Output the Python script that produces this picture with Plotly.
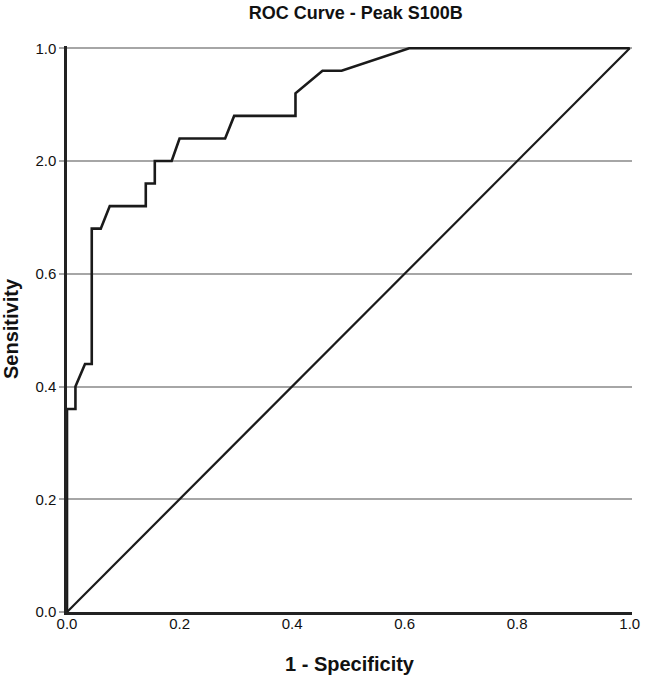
import plotly.graph_objects as go

# ROC curve points (1 - specificity, sensitivity)
fpr = [0.0, 0.0, 0.015, 0.015, 0.032, 0.044, 0.044, 0.06, 0.076, 0.14, 0.14, 0.156, 0.156,
       0.186, 0.2, 0.281, 0.297, 0.406, 0.406, 0.454, 0.488, 0.608, 1.0]
tpr = [0.0, 0.36, 0.36, 0.40, 0.44, 0.44, 0.68, 0.68, 0.72, 0.72, 0.76, 0.76, 0.80,
       0.80, 0.84, 0.84, 0.88, 0.88, 0.92, 0.96, 0.96, 1.0, 1.0]
ref_x = [0.0, 1.0]
ref_y = [0.0, 1.0]

x_tickvals = [0.0, 0.2, 0.4, 0.6, 0.8, 1.0]
x_ticktext = ["0.0", "0.2", "0.4", "0.6", "0.8", "1.0"]
y_tickvals = [0.0, 0.2, 0.4, 0.6, 0.8, 1.0]
y_ticktext = ["0.0", "0.2", "0.4", "0.6", "2.0", "1.0"]

fig = go.Figure()
fig.add_trace(go.Scatter(x=ref_x, y=ref_y, mode="lines",
                         line=dict(color="#1a1a1a", width=2.2), showlegend=False))
fig.add_trace(go.Scatter(x=fpr, y=tpr, mode="lines",
                         line=dict(color="#1a1a1a", width=2.6), showlegend=False))

font_family = "Liberation Sans, Arial, sans-serif"
fig.update_layout(
    width=645, height=682,
    margin=dict(l=67, r=13, t=46, b=70, autoexpand=False),
    paper_bgcolor="white", plot_bgcolor="white",
    font=dict(family=font_family, color="#111111"),
    title=dict(text="<b>ROC Curve - Peak S100B</b>", x=0.511, xref="paper",
               xanchor="center", y=0.981, yanchor="middle", pad=dict(t=0, b=0),
               font=dict(size=18, family=font_family, color="#111111")),
    xaxis=dict(range=[0, 1.004], tickvals=x_tickvals, ticktext=x_ticktext,
               automargin=False, ticklabelstandoff=-4, ticklabeloverflow="allow",
               showgrid=False, zeroline=False, showline=True, linecolor="#222222",
               linewidth=2.5, ticks="", tickfont=dict(size=15, color="#111111"),
               title=dict(text="<b>1 - Specificity</b>", font=dict(size=20), standoff=27)),
    yaxis=dict(range=[0, 1.004], tickvals=y_tickvals, ticktext=y_ticktext,
               automargin=False,
               showgrid=True, gridcolor="#a6a6a6", gridwidth=2, zeroline=False,
               showline=True, linecolor="#222222", linewidth=2.5,
               ticks="outside", ticklen=5, tickcolor="#a6a6a6", tickwidth=2,
               tickfont=dict(size=15, color="#111111"),
               title=dict(text="<b>Sensitivity</b>", font=dict(size=20), standoff=14)),
)

fig.write_html("out.html", config={"displayModeBar": False},
               post_script="document.body.style.margin='0';document.body.style.overflow='hidden';")
